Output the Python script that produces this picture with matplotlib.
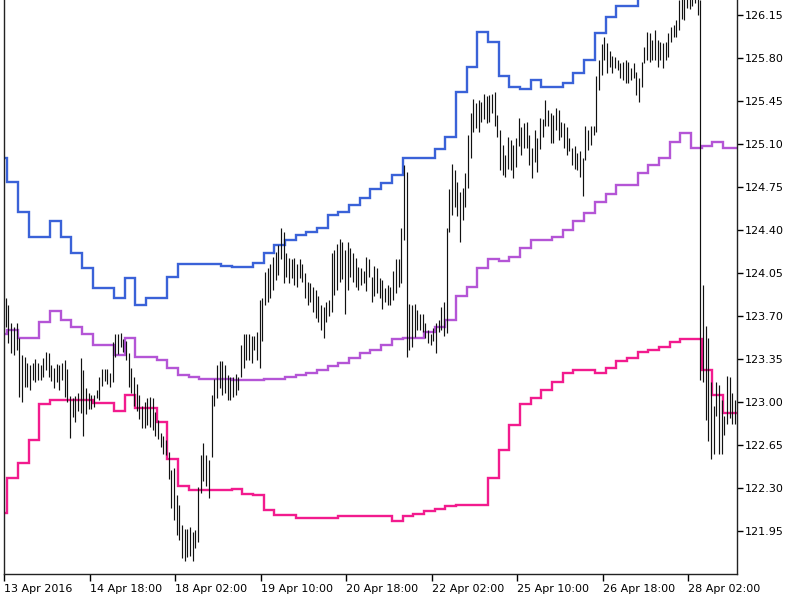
import matplotlib
matplotlib.use("Agg")
import matplotlib.pyplot as plt
import numpy as np

# H1 bars (high / low)
highs = [123.85, 123.79, 123.64, 123.61, 123.64, 123.52, 123.38, 123.37, 123.32, 123.30,
         123.32, 123.35, 123.32, 123.30, 123.36, 123.41, 123.40, 123.30, 123.28, 123.31,
         123.30, 123.32, 123.34, 123.27, 123.05, 123.03, 123.05, 123.07, 123.36, 123.26,
         123.11, 123.07, 123.06, 123.06, 123.10, 123.20, 123.27, 123.27, 123.27, 123.24,
         123.49, 123.55, 123.55, 123.56, 123.51, 123.50, 123.40, 123.28, 123.20, 123.15,
         123.06, 122.97, 123.00, 123.03, 123.04, 123.03, 122.92, 122.85, 122.75, 122.72,
         122.69, 122.59, 122.45, 122.46, 122.24, 122.16, 122.00, 121.97, 121.97, 121.98,
         121.94, 121.96, 122.31, 122.57, 122.67, 122.57, 122.53, 123.06, 123.19, 123.30,
         123.33, 123.33, 123.30, 123.22, 123.20, 123.20, 123.23, 123.20, 123.46, 123.55,
         123.55, 123.55, 123.54, 123.54, 123.57, 123.83, 123.85, 124.06, 124.09, 124.12,
         124.18, 124.22, 124.28, 124.42, 124.38, 124.21, 124.17, 124.16, 124.17, 124.12,
         124.16, 124.12, 124.05, 123.98, 123.97, 123.94, 123.91, 123.86, 123.79, 123.77,
         123.81, 123.83, 124.21, 124.24, 124.29, 124.33, 124.30, 124.24, 124.30, 124.25,
         124.21, 124.17, 124.10, 124.09, 124.07, 124.18, 124.16, 124.02, 124.11, 124.09,
         124.01, 123.99, 123.93, 123.95, 123.94, 124.07, 124.16, 124.16, 124.42, 124.93,
         124.87, 123.80, 123.79, 123.80, 123.75, 123.72, 123.72, 123.64, 123.59, 123.55,
         123.60, 123.64, 123.67, 123.77, 123.81, 124.42, 124.73, 124.94, 124.89, 124.79,
         124.71, 124.74, 124.86, 125.17, 125.35, 125.47, 125.43, 125.46, 125.44, 125.51,
         125.49, 125.50, 125.51, 125.52, 125.34, 125.21, 125.09, 125.01, 125.16, 125.13,
         125.09, 125.15, 125.31, 125.24, 125.27, 125.28, 125.17, 125.07, 125.21, 125.15,
         125.31, 125.30, 125.46, 125.38, 125.35, 125.34, 125.39, 125.38, 125.28, 125.27,
         125.24, 125.15, 125.07, 125.08, 125.03, 125.04, 124.99, 125.25, 125.21, 125.25,
         125.25, 125.65, 125.78, 125.91, 125.97, 125.92, 125.86, 125.82, 125.81, 125.78,
         125.76, 125.77, 125.78, 125.77, 125.72, 125.76, 125.69, 125.64, 125.77, 125.89,
         126.01, 126.00, 125.95, 126.03, 125.95, 125.93, 125.92, 125.93, 126.00, 126.05,
         126.07, 126.11, 126.27, 126.29, 126.28, 126.30, 126.30, 126.29, 126.31, 126.28,
         126.27, 123.95, 123.62, 123.52, 123.16, 122.97, 123.16, 123.14, 123.02, 122.89,
         123.21, 123.20, 123.07, 123.02]
lows = [123.61, 123.48, 123.40, 123.38, 123.42, 123.04, 123.00, 123.12, 123.12, 123.10,
        123.18, 123.16, 123.18, 123.18, 123.20, 123.26, 123.20, 123.17, 123.11, 123.16,
        123.10, 123.18, 123.04, 123.00, 122.71, 122.88, 122.84, 122.93, 122.91, 122.72,
        122.90, 122.94, 122.94, 122.96, 123.03, 123.02, 123.13, 123.17, 123.15, 123.12,
        123.16, 123.37, 123.39, 123.45, 123.41, 123.34, 123.12, 123.07, 122.97, 122.93,
        122.86, 122.79, 122.79, 122.81, 122.80, 122.77, 122.72, 122.70, 122.63, 122.58,
        122.57, 122.37, 122.14, 122.04, 121.92, 121.88, 121.73, 121.71, 121.74, 121.75,
        121.71, 121.81, 121.86, 122.26, 122.36, 122.32, 122.22, 122.55, 122.97, 123.03,
        123.11, 123.06, 123.07, 123.02, 123.02, 123.04, 123.06, 123.10, 123.20, 123.28,
        123.34, 123.34, 123.32, 123.42, 123.34, 123.28, 123.50, 123.79, 123.81, 123.85,
        123.91, 123.99, 124.03, 124.16, 123.97, 124.02, 123.97, 124.01, 123.95, 123.94,
        124.01, 123.98, 123.85, 123.79, 123.81, 123.73, 123.68, 123.65, 123.59, 123.52,
        123.65, 123.70, 123.73, 123.87, 123.91, 123.98, 124.00, 123.72, 123.91, 124.02,
        123.98, 123.94, 123.91, 123.95, 123.97, 123.90, 124.02, 123.81, 123.86, 123.89,
        123.85, 123.76, 123.81, 123.79, 123.79, 123.83, 123.89, 123.94, 123.97, 124.32,
        123.37, 123.42, 123.45, 123.53, 123.59, 123.59, 123.57, 123.52, 123.48, 123.46,
        123.50, 123.40, 123.57, 123.59, 123.54, 123.56, 124.38, 124.52, 124.59, 124.51,
        124.30, 124.48, 124.59, 124.74, 124.99, 125.20, 125.23, 125.20, 125.28, 125.30,
        125.27, 125.28, 125.35, 125.25, 125.16, 124.89, 124.85, 124.83, 124.90, 124.89,
        124.82, 124.91, 125.08, 125.01, 125.07, 125.07, 124.93, 124.82, 124.95, 124.87,
        125.06, 125.16, 125.25, 125.25, 125.11, 125.11, 125.21, 125.13, 125.16, 125.07,
        125.01, 125.04, 124.93, 124.90, 124.89, 124.83, 124.68, 124.97, 125.05, 125.09,
        125.17, 125.20, 125.54, 125.66, 125.78, 125.68, 125.73, 125.68, 125.72, 125.70,
        125.64, 125.62, 125.60, 125.60, 125.62, 125.64, 125.50, 125.44, 125.56, 125.76,
        125.78, 125.77, 125.78, 125.78, 125.73, 125.78, 125.72, 125.78, 125.81, 125.93,
        125.97, 125.97, 126.03, 126.12, 126.11, 126.21, 126.20, 126.22, 126.25, 126.15,
        123.18, 123.16, 122.85, 122.68, 122.54, 122.58, 122.89, 122.58, 122.58, 122.73,
        122.82, 122.87, 122.82, 122.82]

# H4 band values (one per 4 bars; the first covers only bar 0)
upper = [124.99, 124.79, 124.55, 124.34, 124.34, 124.47, 124.34, 124.21, 124.09, 123.93,
         123.93, 123.85, 124.01, 123.79, 123.85, 123.85, 124.02, 124.12, 124.12, 124.12,
         124.12, 124.11, 124.10, 124.10, 124.13, 124.21, 124.28, 124.32, 124.36, 124.38,
         124.42, 124.52, 124.55, 124.60, 124.66, 124.73, 124.78, 124.85, 124.99, 124.99,
         124.99, 125.06, 125.16, 125.52, 125.73, 126.01, 125.93, 125.65, 125.56, 125.55,
         125.62, 125.56, 125.56, 125.60, 125.68, 125.78, 126.00, 126.13, 126.22, 126.22,
         126.32, 126.38, 126.42, 126.48, 126.55, 126.58, 126.60, 126.60, 126.62, 126.62]
middle = [123.55, 123.59, 123.52, 123.52, 123.65, 123.74, 123.67, 123.61, 123.55, 123.46,
          123.46, 123.38, 123.52, 123.37, 123.37, 123.34, 123.28, 123.22, 123.20, 123.19,
          123.19, 123.19, 123.18, 123.18, 123.18, 123.19, 123.19, 123.20, 123.22, 123.24,
          123.26, 123.29, 123.32, 123.36, 123.40, 123.42, 123.46, 123.51, 123.52, 123.52,
          123.57, 123.61, 123.67, 123.86, 123.94, 124.09, 124.16, 124.15, 124.18, 124.25,
          124.32, 124.32, 124.34, 124.40, 124.47, 124.54, 124.63, 124.69, 124.77, 124.77,
          124.86, 124.93, 124.99, 125.12, 125.19, 125.07, 125.08, 125.12, 125.07, 125.07]
lower = [122.10, 122.38, 122.50, 122.69, 122.98, 123.02, 123.02, 123.02, 123.02, 122.99,
         122.99, 122.93, 123.06, 122.95, 122.95, 122.84, 122.54, 122.32, 122.28, 122.28,
         122.28, 122.28, 122.29, 122.25, 122.24, 122.12, 122.08, 122.08, 122.06, 122.06,
         122.06, 122.06, 122.07, 122.07, 122.07, 122.07, 122.07, 122.03, 122.07, 122.09,
         122.11, 122.13, 122.15, 122.16, 122.16, 122.16, 122.38, 122.61, 122.81, 122.98,
         123.03, 123.10, 123.16, 123.24, 123.26, 123.26, 123.24, 123.28, 123.33, 123.36,
         123.41, 123.42, 123.45, 123.49, 123.51, 123.51, 123.26, 123.06, 122.91, 122.91]

tick_bars = [0, 32, 64, 96, 128, 160, 192, 224, 256]
tick_labels = ["13 Apr 2016", "14 Apr 18:00", "18 Apr 02:00", "19 Apr 10:00",
               "20 Apr 18:00", "22 Apr 02:00", "25 Apr 10:00", "26 Apr 18:00",
               "28 Apr 02:00"]
price_ticks = [121.95, 122.30, 122.65, 123.00, 123.35, 123.70, 124.05,
               124.40, 124.75, 125.10, 125.45, 125.80, 126.15]

plt.rcParams['font.family'] = ['DejaVu Sans']

fig = plt.figure(figsize=(8, 6), dpi=100)
ax = fig.add_axes([0.0056, 0.0433, 0.9156, 0.9567])

x = np.arange(len(highs))
ax.vlines(x, lows, highs, color='#111111', lw=0.85)

# step boundaries of the H4 lines sit between bars
edges = np.concatenate([[-0.5], np.arange(1, len(upper) + 1) * 4 - 3.5])
ax.stairs(upper, edges, baseline=None, color='#3A62D8', lw=1.7)
ax.stairs(middle, edges, baseline=None, color='#B455D6', lw=1.7)
ax.stairs(lower, edges, baseline=None, color='#F21B8E', lw=1.7)

ax.set_xlim(-0.5, 273.7)
ax.set_ylim(121.60, 126.272)

ax.set_xticks(np.array(tick_bars) - 0.5)
ax.set_xticklabels(tick_labels, ha='left')
ax.yaxis.tick_right()
ax.set_yticks(price_ticks)
ax.set_yticklabels(["%.2f" % p for p in price_ticks])
ax.tick_params(axis='x', length=5, width=1, pad=2, labelsize=8)
ax.tick_params(axis='y', length=4, width=1, pad=2, labelsize=8)

ax.spines['top'].set_visible(False)
for s in ['left', 'right', 'bottom']:
    ax.spines[s].set_linewidth(1)
    ax.spines[s].set_color('#222222')

fig.savefig("out.png", dpi=100)
